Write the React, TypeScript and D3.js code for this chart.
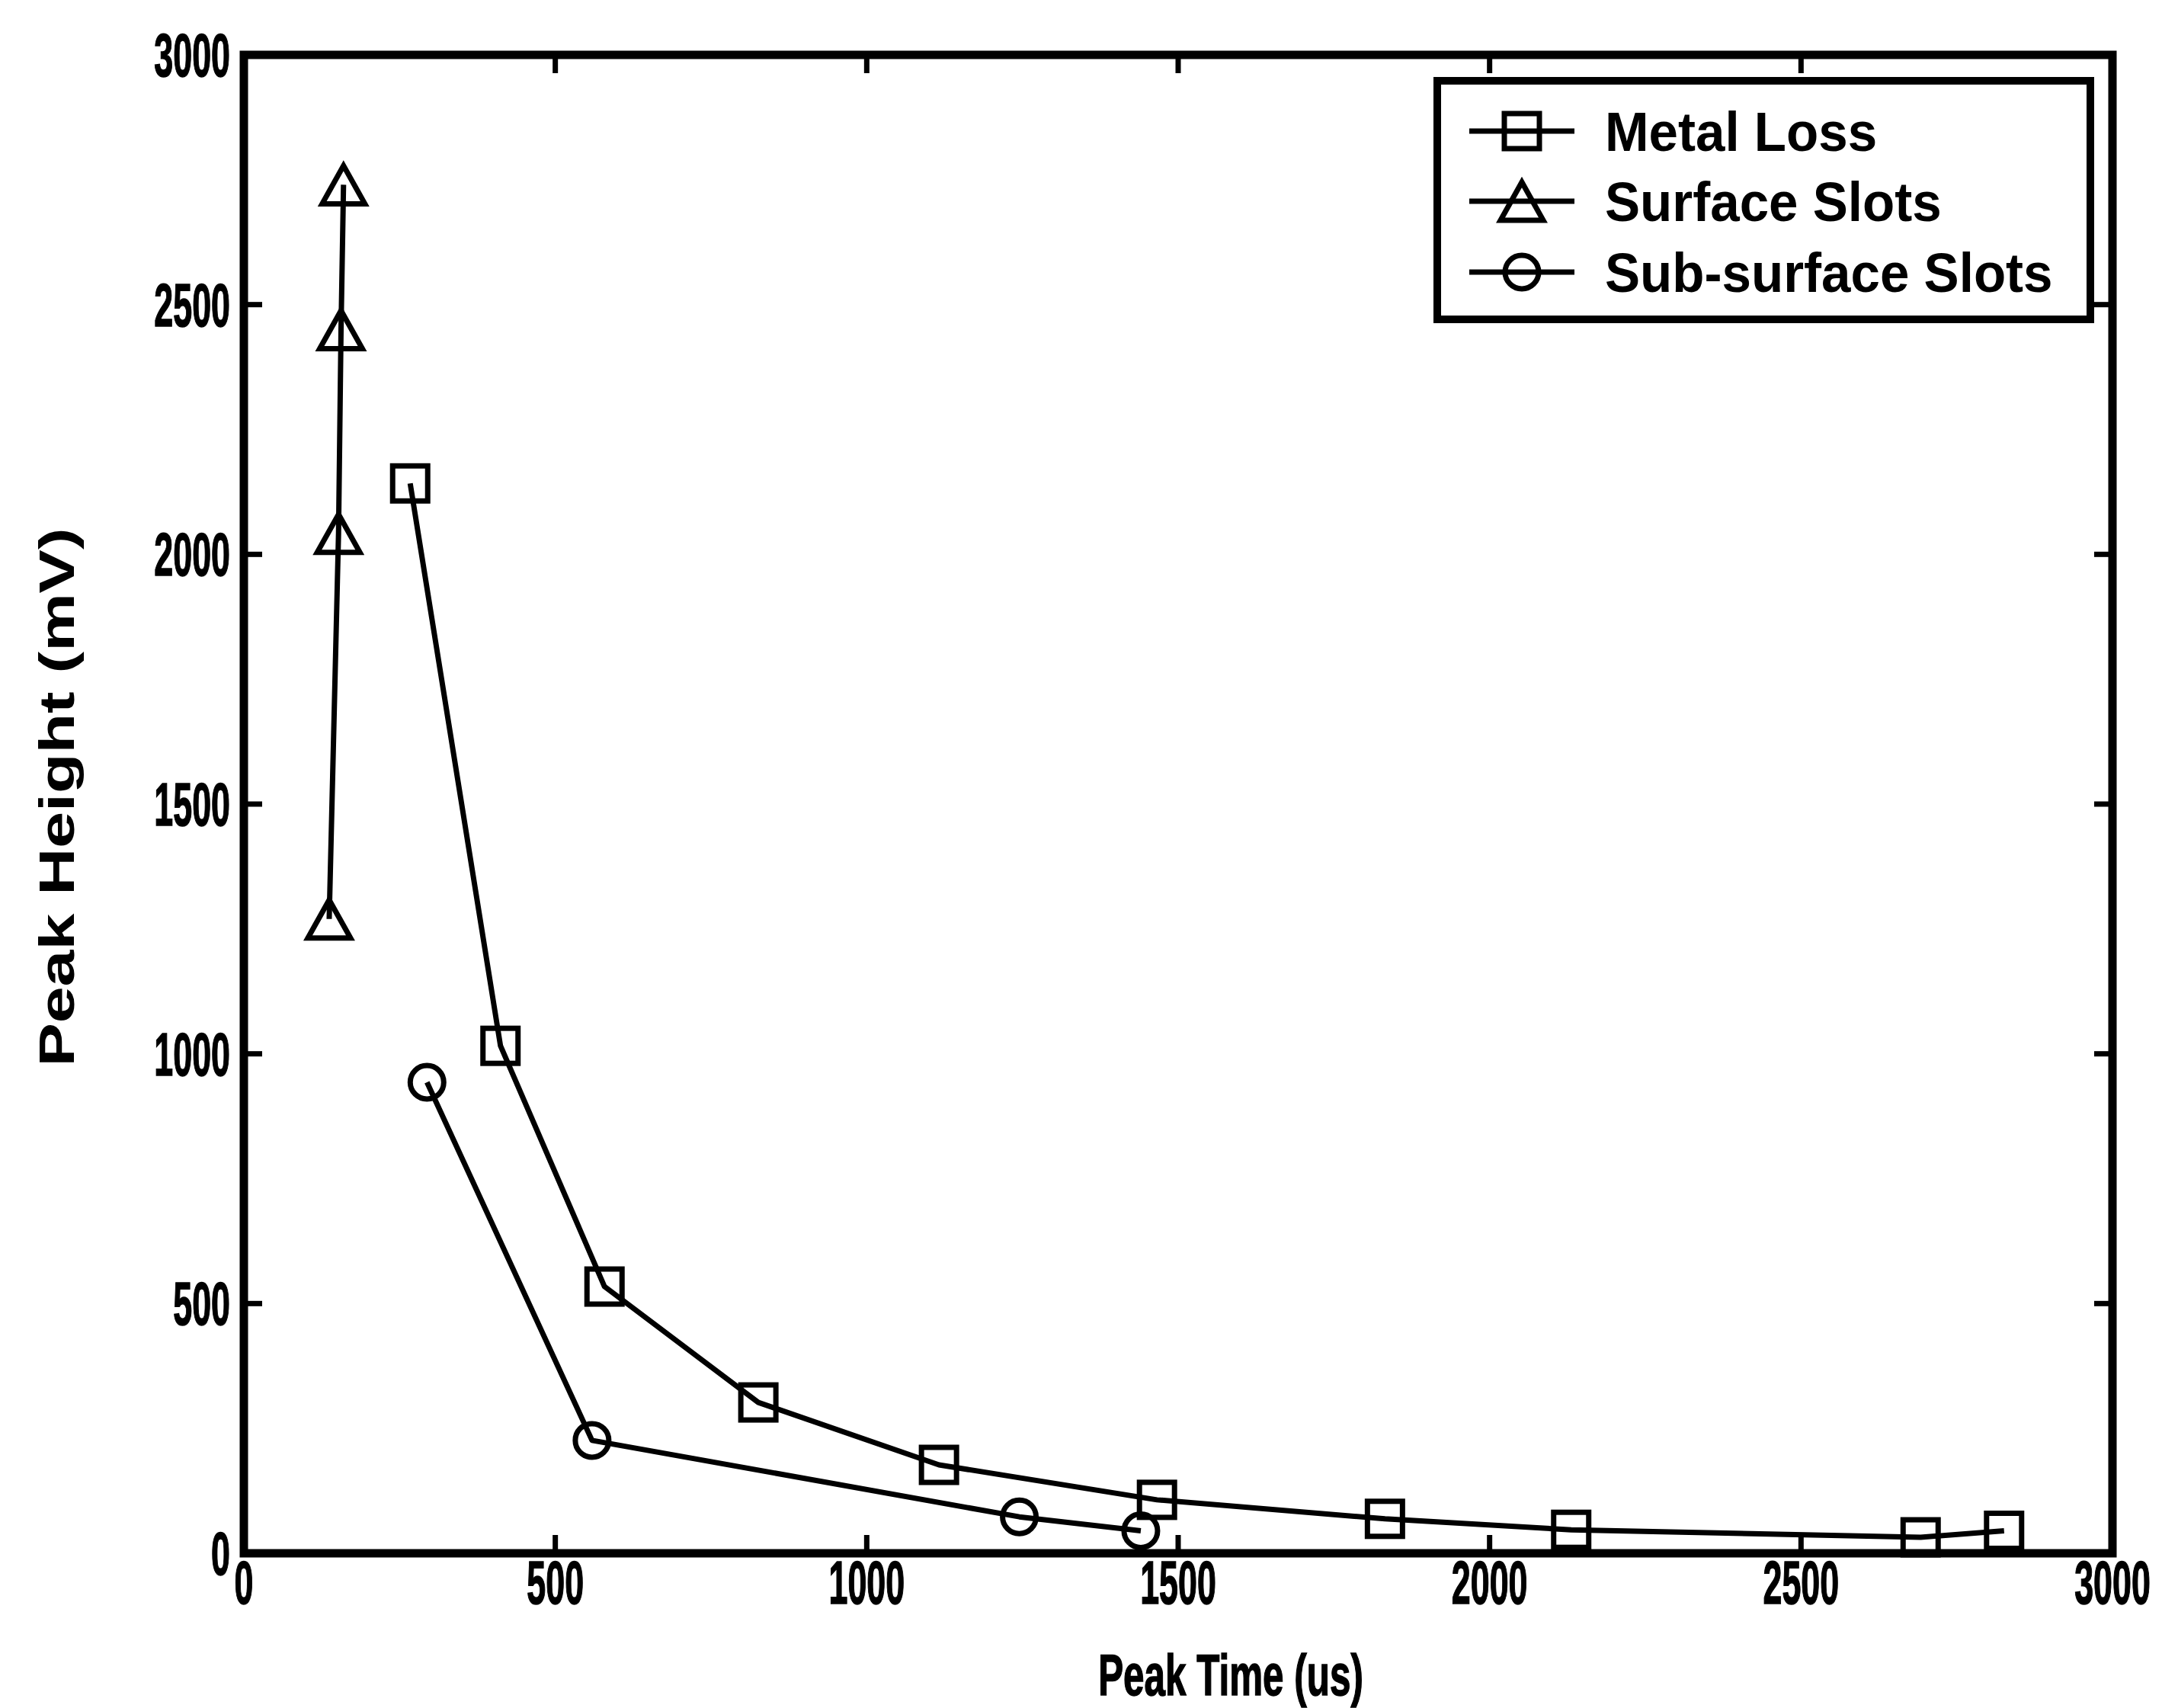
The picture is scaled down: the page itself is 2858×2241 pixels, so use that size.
import React from "react";
import * as d3 from "d3";

const W = 2858;
const H = 2241;

// Data (Peak Time in us, Peak Height in mV)
const metalLossTime = [267, 412, 579, 826, 1116, 1466, 1832, 2131, 2692, 2826];
const metalLossHeight = [2142, 1016, 534, 302, 177, 107, 69, 47, 32, 45];

const surfaceSlotsTime = [137, 152, 156, 160];
const surfaceSlotsHeight = [1270, 2042, 2450, 2740];

const subSurfaceTime = [294, 559, 1245, 1440];
const subSurfaceHeight = [943, 226, 73, 45];

const xTicks = [0, 500, 1000, 1500, 2000, 2500, 3000];
const yTicks = [0, 500, 1000, 1500, 2000, 2500, 3000];

const seriesNames = ["Metal Loss", "Surface Slots", "Sub-surface Slots"];
const markerKinds = ["square", "triangle", "circle"];

const X0 = 320, X1 = 2772, Y0 = 2038, Y1 = 72;
const FONT = "'Liberation Sans', Arial, Helvetica, sans-serif";

function Marker({ kind, x, y }: { kind: string; x: number; y: number }) {
  const sw = 7;
  if (kind === "square") {
    const s = 46;
    return <rect x={x - s / 2} y={y - s / 2} width={s} height={s} fill="none" stroke="#000" strokeWidth={sw} />;
  }
  if (kind === "triangle") {
    const w = 56, h = 50;
    const p = `M${x},${y - h / 2}L${x + w / 2},${y + h / 2}L${x - w / 2},${y + h / 2}Z`;
    return <path d={p} fill="none" stroke="#000" strokeWidth={sw} strokeLinejoin="miter" />;
  }
  return <circle cx={x} cy={y} r={22} fill="none" stroke="#000" strokeWidth={sw} />;
}

function Txt({ x, y, anchor = "start", size = 80, sx = 0.56, sw = 1.5, children }: any) {
  return (
    <text
      transform={`translate(${x},${y}) scale(${sx},1)`}
      textAnchor={anchor}
      fontSize={size}
      fontWeight="bold"
      fontFamily={FONT}
      fill="#000"
      stroke="#000"
      strokeWidth={sw}
    >
      {children}
    </text>
  );
}

export default function App() {
  const x = d3.scaleLinear().domain([0, 3000]).range([X0, X1]);
  const y = d3.scaleLinear().domain([0, 3000]).range([Y0, Y1]);
  const line = d3
    .line<[number, number]>()
    .x((d) => x(d[0]))
    .y((d) => y(d[1]));

  const series = [
    { t: metalLossTime, h: metalLossHeight },
    { t: surfaceSlotsTime, h: surfaceSlotsHeight },
    { t: subSurfaceTime, h: subSurfaceHeight },
  ].map((s, i) => ({
    name: seriesNames[i],
    kind: markerKinds[i],
    pts: s.t.map((tv, j) => [tv, s.h[j]] as [number, number]),
  }));

  const tickLen = 24;
  const legend = { x: 1886, y: 106, w: 857, h: 313 };
  const rowY = [172, 264, 357];

  return (
    <svg
      width={W}
      height={H}
      style={{ position: "absolute", left: 0, top: 0, background: "#fff" }}
    >
      <rect x={0} y={0} width={W} height={H} fill="#fff" />
      {/* ticks */}
      {xTicks.map((t) => (
        <g key={"xt" + t}>
          <line x1={x(t)} x2={x(t)} y1={Y0} y2={Y0 - tickLen} stroke="#000" strokeWidth={7} />
          <line x1={x(t)} x2={x(t)} y1={Y1} y2={Y1 + tickLen} stroke="#000" strokeWidth={7} />
        </g>
      ))}
      {yTicks.map((t) => (
        <g key={"yt" + t}>
          <line x1={X0} x2={X0 + tickLen} y1={y(t)} y2={y(t)} stroke="#000" strokeWidth={7} />
          <line x1={X1} x2={X1 - tickLen} y1={y(t)} y2={y(t)} stroke="#000" strokeWidth={7} />
        </g>
      ))}
      {/* series */}
      {series.map((s) => (
        <g key={s.name}>
          <path d={line(s.pts) || ""} fill="none" stroke="#000" strokeWidth={7} strokeLinejoin="round" />
          {s.pts.map((p, j) => (
            <Marker key={j} kind={s.kind} x={x(p[0])} y={y(p[1])} />
          ))}
        </g>
      ))}
      {/* frame */}
      <rect x={X0} y={Y1} width={X1 - X0} height={Y0 - Y1} fill="none" stroke="#000" strokeWidth={11} />
      {/* tick labels */}
      {xTicks.map((t) => (
        <Txt key={"xl" + t} x={x(t)} y={2104} anchor="middle">
          {String(t)}
        </Txt>
      ))}
      {yTicks.map((t) => (
        <Txt key={"yl" + t} x={302} y={y(t) + 28} anchor="end">
          {String(t)}
        </Txt>
      ))}
      {/* axis titles */}
      <Txt x={1615} y={2224} anchor="middle" size={76} sx={0.65}>
        Peak Time (us)
      </Txt>
      <text
        transform={`translate(97,1046) rotate(-90) scale(1,0.75)`}
        textAnchor="middle"
        fontSize={86}
        fontWeight="bold"
        fontFamily={FONT}
      >
        Peak Height (mV)
      </text>
      {/* legend */}
      <rect x={legend.x} y={legend.y} width={legend.w} height={legend.h} fill="#fff" stroke="#000" strokeWidth={10} />
      {series.map((s, i) => (
        <g key={"lg" + i}>
          <line x1={1928} x2={2066} y1={rowY[i]} y2={rowY[i]} stroke="#000" strokeWidth={7} />
          <Marker kind={s.kind} x={1997} y={rowY[i]} />
          <Txt x={2106} y={rowY[i] + 26} anchor="start" size={72} sx={0.96} sw={0}>
            {s.name}
          </Txt>
        </g>
      ))}
    </svg>
  );
}
